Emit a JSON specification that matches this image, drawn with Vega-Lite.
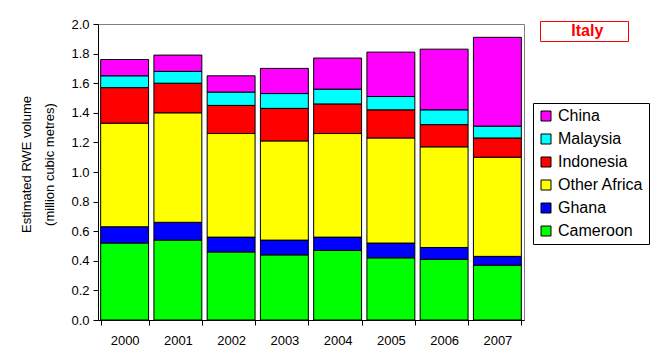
{
  "$schema": "https://vega.github.io/schema/vega-lite/v6.json",
  "width": 426,
  "height": 296,
  "autosize": {"type": "none"},
  "padding": {"left": 98, "top": 24, "right": 127, "bottom": 42},
  "background": "white",
  "config": {
    "font": "Liberation Sans",
    "view": {"stroke": "#808080", "strokeWidth": 1},
    "axis": {"labelFont": "Liberation Sans", "titleFont": "Liberation Sans", "labelColor": "black", "titleColor": "black", "domainColor": "black", "tickColor": "black", "grid": false}
  },
  "layer": [
    {
      "data": {
        "values": [
          {"year": "2000", "series": "Cameroon", "value": 0.52},
          {"year": "2000", "series": "Ghana", "value": 0.11},
          {"year": "2000", "series": "Other Africa", "value": 0.70},
          {"year": "2000", "series": "Indonesia", "value": 0.24},
          {"year": "2000", "series": "Malaysia", "value": 0.08},
          {"year": "2000", "series": "China", "value": 0.11},
          {"year": "2001", "series": "Cameroon", "value": 0.54},
          {"year": "2001", "series": "Ghana", "value": 0.12},
          {"year": "2001", "series": "Other Africa", "value": 0.74},
          {"year": "2001", "series": "Indonesia", "value": 0.20},
          {"year": "2001", "series": "Malaysia", "value": 0.08},
          {"year": "2001", "series": "China", "value": 0.11},
          {"year": "2002", "series": "Cameroon", "value": 0.46},
          {"year": "2002", "series": "Ghana", "value": 0.10},
          {"year": "2002", "series": "Other Africa", "value": 0.70},
          {"year": "2002", "series": "Indonesia", "value": 0.19},
          {"year": "2002", "series": "Malaysia", "value": 0.09},
          {"year": "2002", "series": "China", "value": 0.11},
          {"year": "2003", "series": "Cameroon", "value": 0.44},
          {"year": "2003", "series": "Ghana", "value": 0.10},
          {"year": "2003", "series": "Other Africa", "value": 0.67},
          {"year": "2003", "series": "Indonesia", "value": 0.22},
          {"year": "2003", "series": "Malaysia", "value": 0.10},
          {"year": "2003", "series": "China", "value": 0.17},
          {"year": "2004", "series": "Cameroon", "value": 0.47},
          {"year": "2004", "series": "Ghana", "value": 0.09},
          {"year": "2004", "series": "Other Africa", "value": 0.70},
          {"year": "2004", "series": "Indonesia", "value": 0.20},
          {"year": "2004", "series": "Malaysia", "value": 0.10},
          {"year": "2004", "series": "China", "value": 0.21},
          {"year": "2005", "series": "Cameroon", "value": 0.42},
          {"year": "2005", "series": "Ghana", "value": 0.10},
          {"year": "2005", "series": "Other Africa", "value": 0.71},
          {"year": "2005", "series": "Indonesia", "value": 0.19},
          {"year": "2005", "series": "Malaysia", "value": 0.09},
          {"year": "2005", "series": "China", "value": 0.30},
          {"year": "2006", "series": "Cameroon", "value": 0.41},
          {"year": "2006", "series": "Ghana", "value": 0.08},
          {"year": "2006", "series": "Other Africa", "value": 0.68},
          {"year": "2006", "series": "Indonesia", "value": 0.15},
          {"year": "2006", "series": "Malaysia", "value": 0.10},
          {"year": "2006", "series": "China", "value": 0.41},
          {"year": "2007", "series": "Cameroon", "value": 0.37},
          {"year": "2007", "series": "Ghana", "value": 0.06},
          {"year": "2007", "series": "Other Africa", "value": 0.67},
          {"year": "2007", "series": "Indonesia", "value": 0.13},
          {"year": "2007", "series": "Malaysia", "value": 0.08},
          {"year": "2007", "series": "China", "value": 0.60}
        ]
      },
      "transform": [
        {"calculate": "indexof(['Cameroon','Ghana','Other Africa','Indonesia','Malaysia','China'], datum.series)", "as": "stackOrder"}
      ],
      "mark": {"type": "bar", "stroke": "black", "strokeWidth": 1},
      "encoding": {
        "x": {
          "field": "year", "type": "ordinal",
          "scale": {"paddingInner": 0.1, "paddingOuter": 0.05},
          "axis": {"title": null, "labelAngle": 0, "labelFontSize": 13, "tickSize": 5, "tickBand": "extent", "labelPadding": 9}
        },
        "y": {
          "field": "value", "type": "quantitative", "aggregate": "sum", "stack": "zero",
          "scale": {"domain": [0, 2], "nice": false},
          "axis": {
            "title": ["Estimated RWE volume", "(million cubic metres)"],
            "values": [0, 0.2, 0.4, 0.6, 0.8, 1.0, 1.2, 1.4, 1.6, 1.8, 2.0],
            "format": ".1f", "labelFontSize": 13, "titleFontSize": 13, "titleFontWeight": "normal",
            "titleLineHeight": 23, "tickSize": 5, "labelPadding": 4, "titlePadding": 14, "titleY": 140
          }
        },
        "color": {
          "field": "series", "type": "nominal",
          "scale": {
            "domain": ["China", "Malaysia", "Indonesia", "Other Africa", "Ghana", "Cameroon"],
            "range": ["#FF00FF", "#00FFFF", "#FF0000", "#FFFF00", "#0000FF", "#00FF00"]
          },
          "legend": {
            "title": null, "orient": "none", "legendX": 435, "legendY": 79,
            "strokeColor": "black", "fillColor": "white", "padding": 5,
            "symbolType": "square", "symbolSize": 100, "symbolStrokeColor": "black", "symbolStrokeWidth": 1,
            "labelFontSize": 16, "labelFont": "Liberation Sans", "labelColor": "black", "labelOffset": 4, "rowPadding": 7
          }
        },
        "order": {"field": "stackOrder", "type": "quantitative", "sort": "ascending"}
      }
    },
    {
      "data": {"values": [{"country": "Italy"}]},
      "mark": {"type": "point", "opacity": 0},
      "encoding": {
        "shape": {
          "field": "country", "type": "nominal",
          "legend": {
            "title": null, "orient": "none", "legendX": 442, "legendY": -3,
            "strokeColor": "red", "fillColor": "white", "padding": 2,
            "symbolSize": 0, "symbolOpacity": 0, "symbolStrokeWidth": 0, "labelOffset": 0,
            "labelFontSize": 16, "labelFontWeight": "bold", "labelColor": "red", "labelFont": "Liberation Sans",
            "labelExpr": "'\u200b\u00a0\u00a0\u00a0' + datum.label + '\u00a0\u00a0\u00a0\u00a0\u00a0\u200b'"
          }
        }
      }
    }
  ]
}
